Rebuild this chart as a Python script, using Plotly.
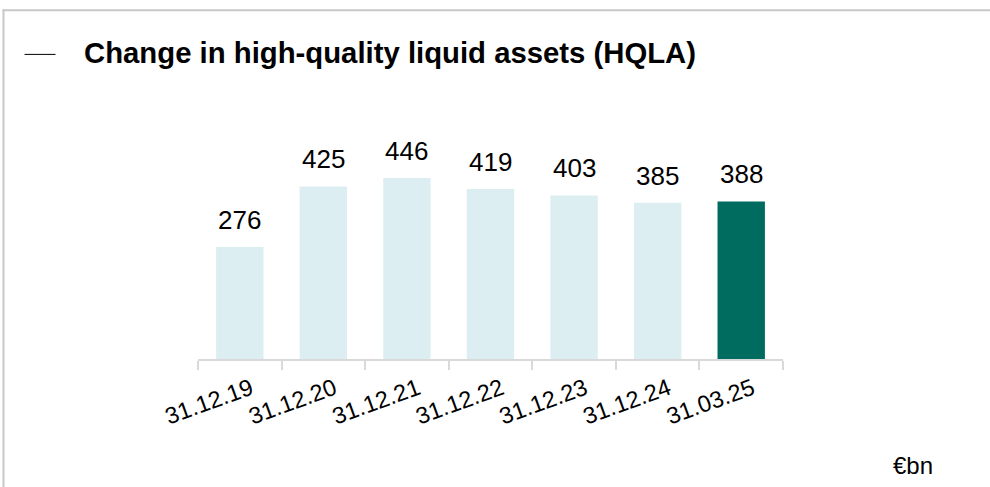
import plotly.graph_objects as go

categories = ["31.12.19", "31.12.20", "31.12.21", "31.12.22", "31.12.23", "31.12.24", "31.03.25"]
values = [276, 425, 446, 419, 403, 385, 388]
bar_colors = ["#DCEEF1"] * 6 + ["#006B5F"]

W, H = 990, 487
L, R, T, B = 198.3, 207.3, 156.4, 128
pw, ph = W - L - R, H - T - B

def px(x):
    return (x - L) / pw

def py(y):
    return (H - B - y) / ph

FONT = "Liberation Sans, Arial"

fig = go.Figure(go.Bar(
    x=categories, y=values,
    marker=dict(color=bar_colors, line=dict(width=0)),
    cliponaxis=False, width=0.567, hoverinfo="skip",
))

value_labels = [
    dict(x=c, y=v, xref="x", yref="y", text=str(v), showarrow=False,
         xanchor="center", yanchor="bottom", yshift=10,
         font=dict(family=FONT, size=26, color="#000000"))
    for c, v in zip(categories, values)
]

fig.update_layout(
    width=W, height=H,
    margin=dict(l=L, r=R, t=T, b=B, autoexpand=False),
    paper_bgcolor="white", plot_bgcolor="white",
    showlegend=False,
    font=dict(family=FONT, color="#000000"),
    xaxis=dict(
        type="category", range=[-0.5, 6.5], showgrid=False,
        showline=True, linecolor="#D9D9D9", linewidth=2,
        ticks="outside", ticklen=9, tickcolor="#D9D9D9", tickwidth=2,
        tickson="boundaries", tickangle=-20,
        tickfont=dict(family=FONT, size=23.5, color="#000000"),
        ticklabelshift=11, ticklabelstandoff=5,
    ),
    yaxis=dict(range=[0, 500], visible=False, showgrid=False, zeroline=False),
    shapes=[
        dict(type="line", xref="paper", yref="paper", x0=px(3), x1=px(990), y0=py(11), y1=py(11),
             line=dict(color="#C8C8C8", width=2)),
        dict(type="line", xref="paper", yref="paper", x0=px(4), x1=px(4), y0=py(10), y1=py(487),
             line=dict(color="#C8C8C8", width=2)),
        dict(type="line", xref="paper", yref="paper", x0=px(25), x1=px(56), y0=py(55), y1=py(55),
             line=dict(color="#000000", width=1)),
    ],
    annotations=value_labels + [
        dict(text="<b>Change in high-quality liquid assets (HQLA)</b>", xref="paper", yref="paper",
             x=px(82), y=py(53), xanchor="left", yanchor="middle", showarrow=False,
             font=dict(family=FONT, size=29.3, color="#000000")),
        dict(text="€bn", xref="paper", yref="paper",
             x=px(913), y=py(465), xanchor="center", yanchor="middle", showarrow=False,
             font=dict(family=FONT, size=24, color="#000000")),
    ],
)

fig.write_html(
    "out.html",
    config={"displayModeBar": False, "staticPlot": True},
    post_script="document.body.style.margin='0px';document.body.style.overflow='hidden';",
)
